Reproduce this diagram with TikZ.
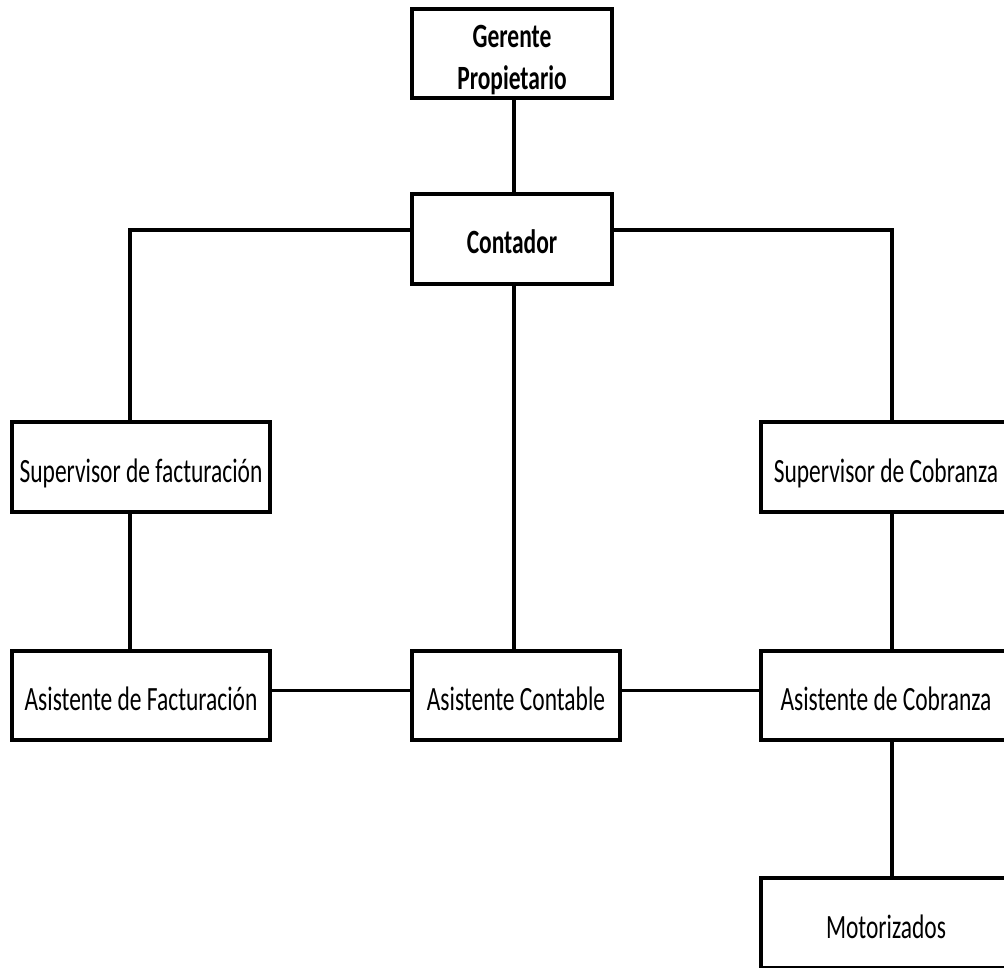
\documentclass[tikz,border=0pt]{standalone}
\usepackage{fontspec}
\newfontfamily\boxfont{Carlito}[FakeStretch=0.69]
\begin{document}
\begin{tikzpicture}[x=1pt,y=-1pt,
  box/.style={draw=black,line width=4.5pt,fill=white,rectangle,line join=miter,
    minimum height=90pt,inner sep=0pt,text height=30pt,text depth=0pt,
    font=\boxfont\fontsize{34}{43}\selectfont},
  boldbox/.style={box,font=\boxfont\bfseries\fontsize{34}{42}\selectfont},
  link/.style={draw=black,line width=3.2pt}]
\useasboundingbox (0,0) rectangle (1004,968);
\fill[white] (0,0) rectangle (1004,968);
\clip (0,0) rectangle (1004,968);

% boxes of the chart
\node[boldbox,minimum width=200pt,minimum height=89pt,align=center,
      text height=73pt,text depth=0pt]
      (ger) at (512,53.5) {Gerente\\Propietario};
\node[boldbox,minimum width=200pt] (con) at (512,239) {Contador};
\node[box,minimum width=258pt] (supf) at (141,467) {Supervisor de facturación};
\node[box,minimum width=250pt] (supc) at (886,467) {Supervisor de Cobranza};
\node[box,minimum width=258pt,minimum height=89pt] (asf) at (141,695.5) {Asistente de Facturación};
\node[box,minimum width=208pt,minimum height=89pt] (asc) at (516,695.5) {Asistente Contable};
\node[box,minimum width=250pt,minimum height=89pt] (asco) at (886,695.5) {Asistente de Cobranza};
\node[box,minimum width=250pt] (mot) at (886,923) {Motorizados};

% reporting lines
\draw[link] ([xshift=2pt]ger.south) -- ([xshift=2pt]con.north);
\draw[link] ([yshift=9pt]con.west) -| ([xshift=-11pt]supf.north);
\draw[link] ([yshift=9pt]con.east) -| ([xshift=6pt]supc.north);
\draw[link] ([xshift=2pt]con.south) -- ([xshift=-2pt]asc.north);
\draw[link] ([xshift=-11pt]supf.south) -- ([xshift=-11pt]asf.north);
\draw[link] ([xshift=6pt]supc.south) -- ([xshift=6pt]asco.north);
\draw[link] ([xshift=6pt]asco.south) -- ([xshift=6pt]mot.north);
\draw[link] ([yshift=5pt]asf.east) -- ([yshift=5pt]asc.west);
\draw[link] ([yshift=5pt]asc.east) -- ([yshift=5pt]asco.west);
\end{tikzpicture}
\end{document}
